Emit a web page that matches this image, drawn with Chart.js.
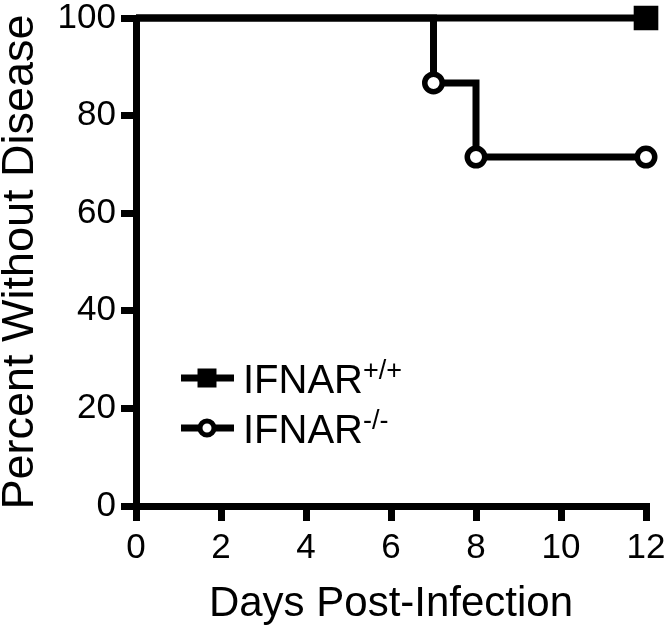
<!DOCTYPE html>
<html>
<head>
<meta charset="utf-8">
<title>Percent Without Disease</title>
<script src="https://cdn.jsdelivr.net/npm/chart.js@4/dist/chart.umd.min.js"></script>
<style>
  body { margin: 0; background: #fff; }
  #wrap { width: 666px; height: 630px; }
</style>
</head>
<body>
<div id="wrap"><canvas id="chart" width="666" height="630"></canvas></div>
<script>
// DATA
const daysWT = [0, 12];
const pctWT = [100, 100];
const daysKO = [0, 7, 8, 12];
const pctKO = [100, 86.7, 71.5, 71.5];
const seriesNames = ['IFNAR', 'IFNAR'];
const seriesSups = ['+/+', '-/-'];
const xTickStep = 2;
const yTickStep = 20;
const xTitle = 'Days Post-Infection';
const yTitle = 'Percent Without Disease';

const FONT = '"Liberation Sans", Arial, Helvetica, sans-serif';

const toPoints = (xs, ys) => xs.map((x, i) => ({ x: x, y: ys[i] }));

// legend drawn by hand so the superscripts come out right
const customLegend = {
    id: 'customLegend',
    afterDraw(chart) {
        const ctx = chart.ctx;
        const rows = [
            { y: 378, style: 'rect', radius: 12, bw: 2, fill: '#000' },
            { y: 428, style: 'circle', radius: 7, bw: 5, fill: '#fff' }
        ];
        ctx.save();
        rows.forEach((r, i) => {
            ctx.strokeStyle = '#000';
            ctx.lineWidth = 7;
            ctx.beginPath();
            ctx.moveTo(181, r.y);
            ctx.lineTo(234, r.y);
            ctx.stroke();
            ctx.fillStyle = r.fill;
            ctx.lineWidth = r.bw;
            Chart.helpers.drawPoint(ctx, { pointStyle: r.style, radius: r.radius, borderWidth: r.bw, rotation: 0 }, 207, r.y);

            ctx.fillStyle = '#000';
            ctx.textBaseline = 'alphabetic';
            ctx.textAlign = 'left';
            ctx.font = '40px ' + FONT;
            ctx.fillText(seriesNames[i], 243, r.y + 15);
            const w = ctx.measureText(seriesNames[i]).width;
            ctx.font = '27px ' + FONT;
            ctx.fillText(seriesSups[i], 243 + w, r.y + 1);
        });
        ctx.restore();
    }
};

const ctx = document.getElementById('chart').getContext('2d');
new Chart(ctx, {
    type: 'line',
    data: {
        datasets: [
            {
                label: seriesNames[0] + seriesSups[0],
                data: toPoints(daysWT, pctWT),
                borderColor: '#000', borderWidth: 7,
                stepped: true, clip: false,
                pointStyle: 'rect',
                pointRadius: [0, 16],
                pointBackgroundColor: '#000', pointBorderColor: '#000', pointBorderWidth: 2
            },
            {
                label: seriesNames[1] + seriesSups[1],
                data: toPoints(daysKO, pctKO),
                borderColor: '#000', borderWidth: 7,
                stepped: true, clip: false,
                pointStyle: 'circle',
                pointRadius: [0, 8.75, 8.75, 8.75],
                pointBackgroundColor: '#fff', pointBorderColor: '#000', pointBorderWidth: 5.5
            }
        ]
    },
    options: {
        responsive: false,
        animation: false,
        layout: { padding: { left: 0, right: 20, top: 16, bottom: 0 } },
        plugins: { legend: { display: false }, tooltip: { enabled: false } },
        scales: {
            x: {
                type: 'linear', min: 0, max: 12,
                afterFit(scale) { scale.height = 124; scale.paddingLeft = 0; scale.paddingRight = 0; },
                ticks: { stepSize: xTickStep, color: '#000', padding: 6, font: { family: FONT, size: 35 } },
                grid: { drawOnChartArea: false, drawTicks: true, tickLength: 15, tickWidth: 7, tickColor: '#000', lineWidth: 7, color: '#000' },
                border: { display: true, color: '#000', width: 7 },
                title: { display: true, text: xTitle, color: '#000', padding: 0, font: { family: FONT, size: 42, lineHeight: 1.2 } }
            },
            y: {
                type: 'linear', min: 0, max: 100,
                afterFit(scale) { scale.width = 136; scale.paddingTop = 0; scale.paddingBottom = 0; },
                ticks: { stepSize: yTickStep, color: '#000', padding: 5, font: { family: FONT, size: 35 } },
                grid: { drawOnChartArea: false, drawTicks: true, tickLength: 15, tickWidth: 7, tickColor: '#000', lineWidth: 7, color: '#000' },
                border: { display: true, color: '#000', width: 7 },
                title: { display: true, text: yTitle, color: '#000', padding: 0, font: { family: FONT, size: 45, lineHeight: 0.9 } }
            }
        }
    },
    plugins: [customLegend]
});
</script>
</body>
</html>
